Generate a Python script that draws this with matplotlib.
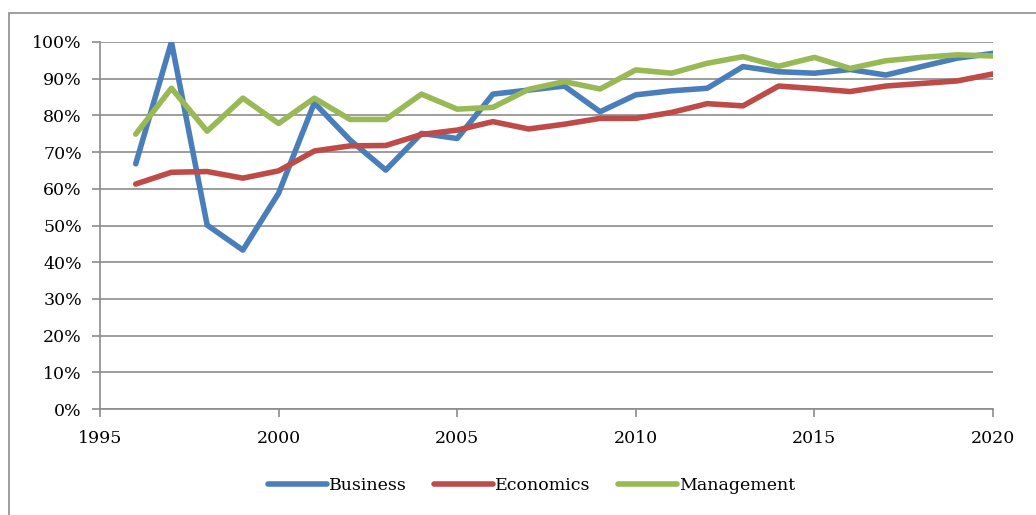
import matplotlib.pyplot as plt
from matplotlib.patches import Rectangle
from matplotlib.ticker import PercentFormatter

years = list(range(1996, 2021))
business = [66.8, 100, 50.1, 43.3, 58.8, 83.4, 73.3, 65.1, 75.1, 73.7, 85.8, 86.9, 88.0, 81.0,
            85.6, 86.7, 87.4, 93.3, 91.9, 91.5, 92.5, 91.0, 93.3, 95.6, 96.9]
economics = [61.3, 64.5, 64.7, 62.9, 64.9, 70.3, 71.7, 71.8, 74.8, 76.0, 78.3, 76.3, 77.6, 79.2,
             79.2, 80.8, 83.2, 82.6, 88.0, 87.3, 86.5, 88.0, 88.7, 89.4, 91.3]
management = [74.9, 87.4, 75.7, 84.7, 77.8, 84.7, 78.9, 78.9, 85.8, 81.7, 82.2, 87.1, 89.2, 87.2,
              92.4, 91.5, 94.2, 96.0, 93.4, 95.8, 92.8, 94.9, 95.8, 96.5, 96.2]

series = [("Business", business, "#4A7EBB"),
          ("Economics", economics, "#BE4B48"),
          ("Management", management, "#98B954")]

plt.rcParams['font.family'] = 'DejaVu Serif'
grey = "#8C8C8C"

fig = plt.figure(figsize=(10.36, 5.15), dpi=100)
ax = fig.add_axes([100 / 1036, 1 - 409 / 515, 893 / 1036, 367 / 515])

# outer chart border (only left and top visible in the reference)
fig.patches.append(Rectangle((9 / 1036, -0.1), 1.2, 1 - 13 / 515 + 0.1,
                             transform=fig.transFigure, fill=False,
                             edgecolor=grey, lw=1.2))

for name, vals, col in series:
    ax.plot(years, vals, color=col, lw=4, label=name, solid_capstyle='round',
            solid_joinstyle='round')

ax.set_xlim(1995, 2020)
ax.set_ylim(0, 100)
ax.set_xticks(range(1995, 2021, 5))
ax.set_yticks(range(0, 101, 10))
ax.yaxis.set_major_formatter(PercentFormatter(decimals=0))
ax.grid(axis='y', color=grey, lw=1.2)
ax.set_axisbelow(True)

for s in ['top', 'right']:
    ax.spines[s].set_visible(False)
for s in ['left', 'bottom']:
    ax.spines[s].set_color(grey)
    ax.spines[s].set_linewidth(1.2)
ax.tick_params(direction='out', length=6, width=1.2, color=grey, labelsize=12.5)
ax.tick_params(axis='x', pad=9)
ax.tick_params(axis='y', pad=7)

fig.legend(loc='center', bbox_to_anchor=(0.513, 1 - 486 / 515), ncol=3, frameon=False,
           fontsize=12.5, handlelength=3.4, handletextpad=0.1, columnspacing=1.6)

fig.savefig('out.png', dpi=100)
